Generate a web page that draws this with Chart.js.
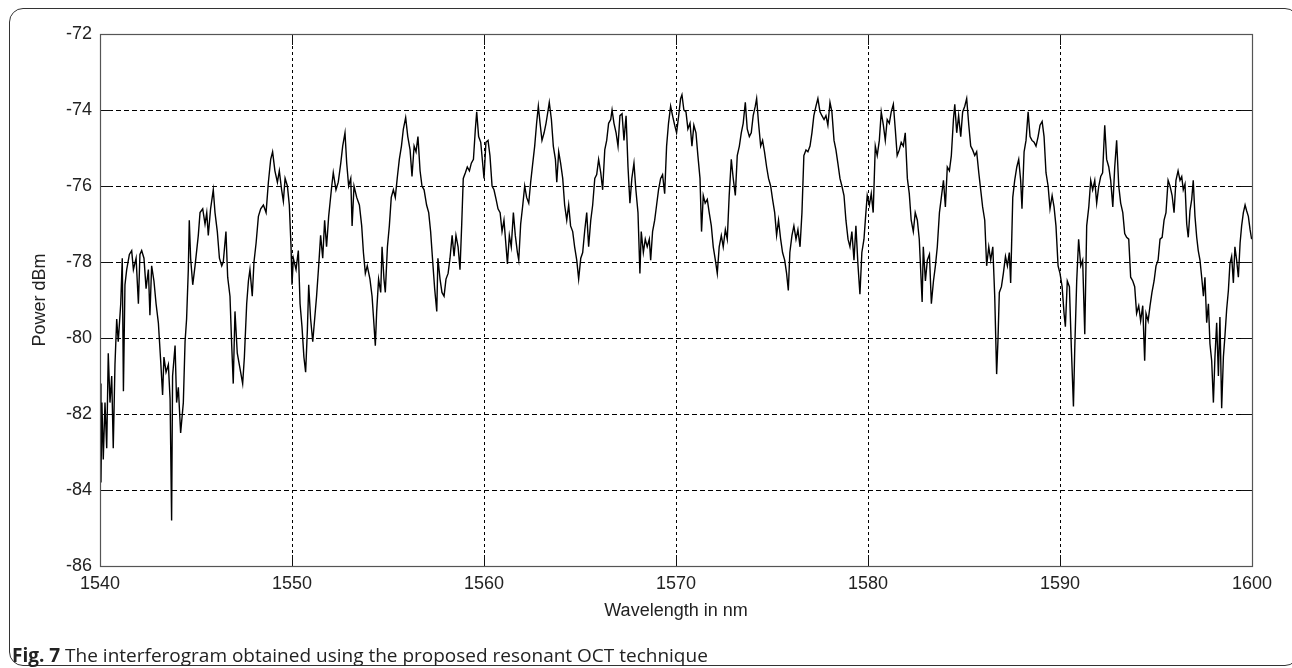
<!DOCTYPE html>
<html>
<head>
<meta charset="utf-8">
<script src="https://cdn.jsdelivr.net/npm/chart.js@4.4.1/dist/chart.umd.min.js"></script>
<style>
  html, body { margin: 0; padding: 0; background: #fff; }
  #wrap { position: relative; width: 1292px; height: 668px; overflow: hidden; }
  #frame { position: absolute; left: 9px; top: 8px; width: 1290px; height: 658px;
           border: 1.5px solid #333; border-radius: 14px; box-sizing: border-box; pointer-events: none; }
  #chart { position: absolute; left: 0; top: 0; }
  #caption { position: absolute; left: 12px; top: 643px; font-family: 'Open Sans', sans-serif;
             font-size: 19px; line-height: 24px; color: #222; white-space: nowrap; }
  #caption b { font-weight: 700; }
</style>
</head>
<body>
<div id="wrap">
  <div id="frame"></div>
  <canvas id="chart" width="1292" height="668"></canvas>
  <div id="caption"><b>Fig. 7</b> The interferogram obtained using the proposed resonant OCT technique</div>
</div>
<script>
// ---- data ----
const xTicks = [1540, 1550, 1560, 1570, 1580, 1590, 1600];
const yTicks = [-86, -84, -82, -80, -78, -76, -74, -72];
const xTitle = 'Wavelength in nm';
const yTitle = 'Power dBm';

const wavelengths = [
1540.00,1540.05,1540.10,1540.17,1540.26,1540.35,1540.43,1540.52,1540.61,1540.69,1540.78,1540.87,1540.95,1541.08,1541.16,1541.22,1541.30,1541.39,1541.53,1541.65,1541.74,1541.88,1542.00,1542.08,1542.17,1542.29,1542.40,1542.52,1542.60,1542.69,1542.81,1542.92,1543.04,1543.16,1543.26,1543.33,1543.44,1543.56,1543.65,1543.73,1543.78,1543.91,1543.99,1544.08,1544.20,1544.34,1544.43,1544.51,1544.60,1544.65,1544.72,1544.83,1544.95,1545.12,1545.21,1545.35,1545.47,1545.56,1545.64,1545.76,1545.90,1545.99,1546.11,1546.22,1546.34,1546.42,1546.56,1546.65,1546.77,1546.86,1546.94,1547.03,1547.15,1547.29,1547.43,1547.52,1547.64,1547.73,1547.81,1547.93,1548.02,1548.13,1548.25,1548.37,1548.51,1548.65,1548.77,1548.89,1548.99,1549.11,1549.24,1549.34,1549.46,1549.55,1549.64,1549.76,1549.86,1549.95,1550.00,1550.07,1550.21,1550.33,1550.42,1550.52,1550.62,1550.71,1550.80,1550.87,1550.97,1551.08,1551.18,1551.28,1551.39,1551.49,1551.60,1551.70,1551.80,1551.91,
1552.07,1552.15,1552.29,1552.41,1552.54,1552.64,1552.76,1552.85,1552.95,1553.06,1553.13,1553.23,1553.37,1553.51,1553.63,1553.72,1553.82,1553.92,1554.06,1554.17,1554.25,1554.34,1554.41,1554.51,1554.62,1554.69,1554.79,1554.86,1554.97,1555.07,1555.17,1555.28,1555.38,1555.49,1555.59,1555.70,1555.80,1555.92,1556.03,1556.15,1556.25,1556.36,1556.46,1556.56,1556.67,1556.77,1556.88,1557.01,1557.12,1557.22,1557.33,1557.43,1557.54,1557.60,1557.71,1557.81,1557.92,1558.02,1558.13,1558.23,1558.34,1558.44,1558.54,1558.65,1558.75,1558.84,1558.92,1559.03,1559.13,1559.24,1559.34,1559.45,1559.55,1559.62,1559.72,1559.83,1559.93,1560.00,1560.10,1560.21,1560.31,1560.42,1560.52,1560.63,1560.73,1560.84,1560.94,1561.04,1561.15,1561.22,1561.32,1561.42,1561.53,1561.63,1561.74,1561.81,1561.91,1562.02,1562.12,1562.22,1562.33,1562.43,1562.54,1562.64,1562.74,1562.83,1562.92,1563.02,1563.13,1563.23,1563.34,1563.40,1563.51,1563.61,1563.72,1563.79,1563.89,1563.99,1564.10,1564.20,1564.31,1564.41,1564.51,1564.62,1564.72,1564.83,1564.93,1565.04,1565.14,1565.25,1565.35,1565.45,1565.56,1565.66,1565.77,1565.87,1565.97,1566.08,1566.18,1566.29,1566.39,1566.49,1566.60,1566.67,1566.77,1566.88,1566.98,1567.08,1567.19,1567.29,1567.40,1567.50,1567.60,
1567.70,1567.81,1567.91,1568.02,1568.12,1568.19,1568.30,1568.40,1568.50,1568.61,1568.68,1568.78,1568.89,1568.99,1569.09,1569.20,1569.30,1569.41,1569.51,1569.61,1569.72,1569.82,1569.93,1570.03,1570.14,1570.24,1570.31,1570.41,1570.52,1570.62,1570.73,1570.83,1570.93,1571.04,1571.14,1571.25,1571.33,1571.42,1571.52,1571.63,1571.73,1571.84,1571.94,1572.05,1572.15,1572.25,1572.36,1572.46,1572.57,1572.67,1572.77,1572.88,1572.98,1573.09,1573.19,1573.30,1573.40,1573.50,1573.61,1573.71,1573.82,1573.92,1574.02,1574.13,1574.20,1574.30,1574.41,1574.51,1574.61,1574.72,1574.82,1574.93,1575.03,1575.14,1575.24,1575.34,1575.45,1575.55,1575.66,1575.76,1575.85,1575.93,1576.04,1576.14,1576.25,1576.35,1576.46,1576.56,1576.66,1576.77,1576.87,1576.98,1577.08,1577.18,1577.29,1577.39,1577.50,1577.60,1577.71,1577.81,1577.91,1578.02,1578.12,1578.23,1578.33,1578.43,1578.54,1578.64,1578.75,1578.85,1578.96,1579.06,1579.16,1579.27,1579.37,1579.48,1579.58,1579.68,1579.79,1579.89,1579.96,1580.07,1580.17,1580.27,1580.38,1580.48,1580.59,1580.69,1580.80,1580.90,1581.00,1581.11,1581.21,1581.32,1581.42,1581.52,1581.63,1581.73,1581.84,1581.94,1582.05,1582.15,1582.25,1582.36,1582.46,1582.57,1582.67,
1582.82,1582.88,1582.99,1583.09,1583.20,1583.30,1583.41,1583.51,1583.61,1583.72,1583.82,1583.93,1584.03,1584.13,1584.24,1584.34,1584.45,1584.52,1584.62,1584.72,1584.83,1584.93,1585.04,1585.14,1585.25,1585.35,1585.45,1585.56,1585.66,1585.77,1585.87,1585.97,1586.08,1586.18,1586.29,1586.39,1586.50,1586.60,1586.70,1586.77,1586.84,1586.95,1587.05,1587.16,1587.26,1587.36,1587.43,1587.54,1587.64,1587.75,1587.85,1587.95,1588.02,1588.13,1588.23,1588.34,1588.44,1588.54,1588.65,1588.75,1588.86,1588.96,1589.07,1589.17,1589.27,1589.38,1589.48,1589.59,1589.69,1589.79,1589.90,1590.00,1590.11,1590.21,1590.28,1590.38,1590.49,1590.59,1590.70,1590.77,1590.87,1590.97,1591.08,1591.18,1591.29,1591.39,1591.50,1591.60,1591.70,1591.81,1591.91,1592.02,1592.12,1592.22,1592.33,1592.43,1592.54,1592.64,1592.75,1592.85,1592.95,1593.06,1593.16,1593.27,1593.37,1593.47,1593.58,1593.68,1593.79,1593.89,1593.99,1594.10,1594.20,1594.31,1594.41,1594.48,1594.59,1594.69,1594.79,1594.90,1595.00,1595.11,1595.21,1595.32,1595.42,1595.52,1595.63,1595.73,1595.84,1595.94,1596.04,1596.15,
1596.25,1596.34,1596.42,1596.51,1596.60,1596.68,1596.77,1596.86,1596.94,1597.03,1597.12,1597.20,1597.29,1597.38,1597.47,1597.55,1597.64,1597.73,1597.81,1597.90,1597.99,1598.07,1598.16,1598.25,1598.33,1598.42,1598.51,1598.59,1598.68,1598.77,1598.85,1598.94,1599.03,1599.11,1599.20,1599.29,1599.38,1599.46,1599.55,1599.64,1599.72,1599.81,1599.90,1599.98
];

const power = [
-81.2,-83.8,-81.7,-83.2,-81.7,-82.9,-80.4,-81.7,-81.0,-82.9,-80.7,-79.5,-80.1,-79.1,-77.9,-81.4,-78.6,-78.2,-77.8,-77.7,-78.2,-77.9,-79.1,-77.8,-77.7,-77.9,-78.7,-78.2,-79.4,-78.1,-78.5,-79.1,-79.6,-80.6,-81.5,-80.5,-80.9,-80.7,-81.6,-84.8,-81.0,-80.2,-81.7,-81.3,-82.5,-81.7,-80.1,-79.5,-78.2,-76.9,-77.9,-78.6,-78.1,-77.3,-76.7,-76.6,-77.0,-76.7,-77.3,-76.6,-76.1,-76.7,-77.2,-77.9,-78.1,-78.0,-77.2,-78.4,-78.9,-80.2,-81.2,-79.3,-80.4,-80.8,-81.2,-80.5,-79.1,-78.5,-78.2,-78.9,-78.0,-77.5,-76.8,-76.6,-76.5,-76.7,-75.9,-75.3,-75.1,-75.6,-75.9,-75.6,-76.1,-76.4,-75.8,-76.0,-76.5,-77.6,-78.6,-77.9,-78.2,-77.7,-79.1,-79.7,-80.5,-80.9,-79.8,-78.6,-79.5,-80.1,-79.5,-78.9,-78.1,-77.3,-77.9,-76.9,-77.6,-76.8,
-76.0,-75.65,-76.1,-75.9,-75.4,-74.95,-74.6,-75.4,-76.0,-75.8,-77.05,-76.0,-76.3,-76.5,-77.05,-77.75,-78.3,-78.1,-78.45,-78.9,-79.5,-80.2,-79.3,-78.45,-78.8,-77.6,-78.45,-78.8,-77.6,-77.05,-76.3,-76.1,-76.3,-75.75,-75.3,-74.95,-74.5,-74.2,-74.7,-75.05,-75.75,-74.95,-75.1,-74.7,-75.6,-76.0,-76.1,-76.5,-76.7,-77.2,-78.0,-78.7,-79.3,-77.9,-78.45,-78.8,-78.9,-78.45,-78.3,-77.9,-77.3,-77.85,-77.3,-77.6,-78.2,-77.0,-75.8,-75.65,-75.5,-75.6,-75.4,-75.3,-74.5,-74.05,-74.7,-74.85,-75.4,-75.8,-74.85,-74.8,-75.2,-76.0,-76.1,-76.35,-76.6,-76.7,-77.2,-76.9,-77.6,-78.05,-77.3,-77.6,-76.7,-77.3,-77.75,-77.95,-77.0,-76.5,-76.0,-76.3,-76.45,-75.9,-75.4,-74.95,-74.35,-73.9,-74.35,-74.8,-74.6,-74.35,-74.0,-73.8,-74.25,-74.95,-75.3,-75.9,-75.1,-75.4,-75.8,-76.5,-76.9,-76.5,-77.05,-77.2,-77.6,-77.95,-78.45,-77.9,-77.75,-77.15,-76.7,-77.6,-76.9,-76.5,-75.8,-75.7,-75.3,-75.65,-76.1,-75.05,-74.8,-74.35,-74.25,-74.0,-74.35,-74.6,-74.95,-74.15,-74.1,-74.8,-74.15,-75.5,-76.45,
-75.8,-75.4,-76.1,-76.7,-78.3,-77.2,-77.75,-77.4,-77.6,-77.4,-77.95,-77.2,-76.9,-76.5,-76.1,-75.8,-75.7,-76.2,-74.95,-74.35,-73.9,-74.15,-74.4,-74.6,-74.15,-73.7,-73.6,-74.0,-74.05,-74.5,-74.35,-74.95,-74.4,-74.6,-75.2,-75.8,-77.2,-76.25,-76.45,-76.35,-76.7,-77.05,-77.6,-77.95,-78.3,-77.6,-77.3,-77.6,-77.15,-77.4,-76.25,-75.3,-75.8,-76.25,-75.2,-74.95,-74.6,-74.35,-73.8,-74.5,-74.7,-74.6,-74.15,-73.9,-73.7,-74.35,-74.95,-74.8,-75.1,-75.5,-75.8,-76.0,-76.35,-76.7,-77.3,-76.9,-77.4,-77.75,-77.95,-78.3,-78.75,-77.75,-77.3,-77.05,-77.4,-77.15,-77.6,-76.7,-75.2,-75.05,-75.1,-74.95,-74.6,-74.15,-73.9,-73.7,-74.05,-74.15,-74.25,-74.15,-74.4,-73.8,-74.05,-74.8,-75.05,-75.4,-75.8,-76.0,-76.25,-76.9,-77.4,-77.6,-77.2,-77.95,-77.05,-78.1,-78.85,-77.75,-77.4,-76.7,-76.25,-76.5,-76.2,-76.7,-74.95,-75.2,-74.8,-74.05,-74.4,-74.8,-74.25,-74.35,-74.05,-73.85,-74.5,-75.2,-75.05,-74.85,-74.95,-74.6,-75.8,-76.2,-76.9,-77.2,-76.7,-76.9,-77.4,
-79.05,-77.6,-78.5,-77.95,-77.8,-79.1,-78.5,-78.1,-77.6,-76.7,-76.3,-75.85,-76.55,-75.5,-75.6,-75.2,-74.25,-73.85,-74.6,-74.15,-74.7,-74.05,-73.9,-73.7,-74.4,-74.95,-75.05,-75.2,-75.1,-75.65,-76.1,-76.55,-76.9,-78.1,-77.6,-77.95,-77.6,-78.9,-80.95,-80.05,-78.8,-78.65,-78.3,-77.85,-78.1,-77.75,-78.55,-76.3,-75.85,-75.5,-75.3,-75.85,-76.6,-75.1,-74.8,-74.05,-74.7,-74.8,-74.85,-74.95,-74.7,-74.4,-74.3,-74.7,-75.65,-76.0,-76.6,-76.25,-76.55,-77.05,-78.1,-78.3,-78.65,-79.35,-79.7,-78.5,-78.65,-80.25,-81.8,-80.25,-78.5,-77.4,-78.1,-77.95,-79.9,-77.05,-76.55,-75.85,-76.1,-75.85,-76.45,-76.0,-75.75,-75.65,-74.4,-75.3,-75.5,-75.85,-76.55,-75.5,-74.8,-76.0,-76.45,-76.7,-77.25,-77.35,-77.4,-78.4,-78.5,-78.65,-79.35,-79.15,-79.55,-79.15,-80.6,-79.35,-79.55,-79.15,-78.8,-78.5,-78.1,-77.95,-77.4,-77.35,-76.9,-76.7,-75.85,-76.0,-76.25,-76.7,-75.85,-75.6,
-75.85,-75.75,-76.1,-75.95,-77.0,-77.35,-76.65,-76.35,-75.85,-76.8,-77.35,-77.7,-77.95,-78.4,-78.9,-78.4,-79.6,-79.1,-80.15,-80.6,-81.7,-80.5,-79.6,-81.0,-79.45,-81.85,-80.5,-79.95,-79.25,-78.75,-78.05,-77.85,-78.55,-77.6,-77.95,-78.4,-77.5,-77.05,-76.7,-76.5,-76.65,-76.8,-77.15,-77.4
];

// ---- chart ----
const points = wavelengths.map((w, i) => ({ x: w, y: power[i] }));
const FONT = "'Liberation Sans', Arial, sans-serif";

const boxAndTicks = {
  id: 'boxAndTicks',
  afterDatasetsDraw(chart) {
    const { ctx, chartArea: a, scales } = chart;
    const L = 11;
    ctx.save();
    ctx.strokeStyle = '#111';
    ctx.lineWidth = 1;
    ctx.beginPath();
    scales.y.ticks.forEach(t => {
      const py = Math.round(scales.y.getPixelForValue(t.value)) + 0.5;
      ctx.moveTo(a.left, py); ctx.lineTo(a.left + L, py);
      ctx.moveTo(a.right, py); ctx.lineTo(a.right - L, py);
    });
    scales.x.ticks.forEach(t => {
      const px = Math.round(scales.x.getPixelForValue(t.value)) + 0.5;
      ctx.moveTo(px, a.bottom); ctx.lineTo(px, a.bottom - L);
      ctx.moveTo(px, a.top); ctx.lineTo(px, a.top + L);
    });
    ctx.stroke();
    ctx.strokeStyle = '#555';
    ctx.lineWidth = 1.2;
    ctx.strokeRect(Math.round(a.left) + 0.5, Math.round(a.top) + 0.5,
                   Math.round(a.right - a.left), Math.round(a.bottom - a.top));
    ctx.restore();
  }
};

const edgeless = (min, max) => ctx =>
  (ctx.tick && (ctx.tick.value === min || ctx.tick.value === max)) ? 'rgba(0,0,0,0)' : '#000';

new Chart(document.getElementById('chart'), {
  type: 'line',
  data: {
    datasets: [{
      data: points,
      borderColor: '#000',
      borderWidth: 1.4,
      pointRadius: 0,
      tension: 0,
      fill: false
    }]
  },
  options: {
    responsive: false,
    animation: false,
    devicePixelRatio: 1,
    layout: { padding: { left: 0, top: 34, right: 40, bottom: 0 } },
    plugins: { legend: { display: false }, tooltip: { enabled: false } },
    scales: {
      x: {
        type: 'linear',
        min: xTicks[0], max: xTicks[xTicks.length - 1],
        afterFit: s => { s.height = 102; },
        afterBuildTicks: s => { s.ticks = xTicks.map(v => ({ value: v })); },
        ticks: { callback: v => String(v), color: '#222', padding: 7,
                 font: { family: FONT, size: 18 } },
        grid: { color: edgeless(1540, 1600), lineWidth: 1, drawTicks: false },
        border: { display: false, dash: [3, 3] },
        title: { display: true, text: xTitle, color: '#222',
                 font: { family: FONT, size: 18 }, padding: { top: 0, bottom: 46 } }
      },
      y: {
        type: 'linear',
        min: yTicks[0], max: yTicks[yTicks.length - 1],
        afterFit: s => { s.width = 100; },
        afterBuildTicks: s => { s.ticks = yTicks.map(v => ({ value: v })); },
        ticks: { callback: v => String(v), color: '#222', padding: 8,
                 font: { family: FONT, size: 18 } },
        grid: { color: edgeless(-86, -72), lineWidth: 1, drawTicks: false },
        border: { display: false, dash: [5, 3] },
        title: { display: true, text: yTitle, color: '#222',
                 font: { family: FONT, size: 18 }, padding: { top: 29, bottom: 0 } }
      }
    }
  },
  plugins: [boxAndTicks]
});
</script>
</body>
</html>
